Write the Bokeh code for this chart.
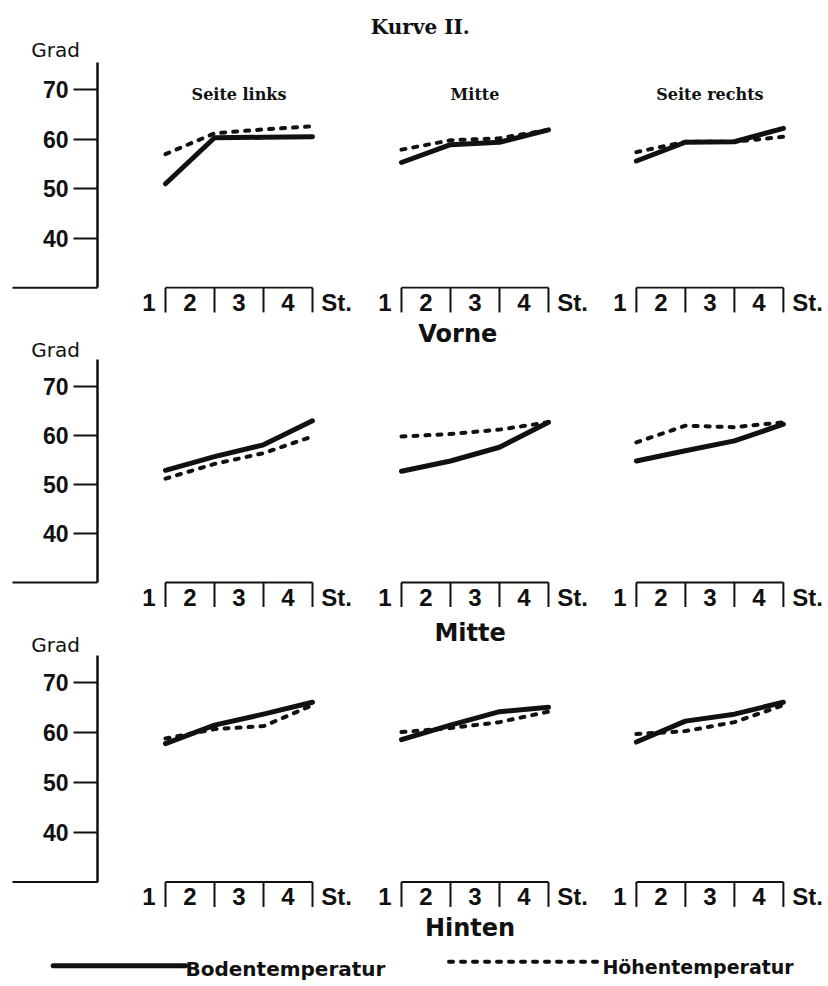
from bokeh.plotting import figure
from bokeh.models import Range1d, LinearAxis, FixedTicker
from bokeh.core.properties import value
from bokeh.embed import file_html
from bokeh.resources import INLINE

# ---------------- data ----------------
hours = [1, 2, 3, 4]
hour_labels = ["2", "3", "4"]
column_titles = ["Seite links", "Mitte", "Seite rechts"]
row_titles = ["Vorne", "Mitte", "Hinten"]
y_ticks = [40, 50, 60, 70]

# Bodentemperatur (solid) / Höhentemperatur (dashed), Grad
vorne_links_boden = [51.0, 60.3, 60.4, 60.5]
vorne_links_hoehe = [57.0, 61.2, 62.0, 62.6]
vorne_mitte_boden = [55.3, 58.9, 59.4, 61.9]
vorne_mitte_hoehe = [57.9, 59.8, 60.2, 61.9]
vorne_rechts_boden = [55.6, 59.4, 59.5, 62.2]
vorne_rechts_hoehe = [57.4, 59.5, 59.5, 60.5]

mitte_links_boden = [52.9, 55.7, 58.1, 63.0]
mitte_links_hoehe = [51.2, 54.2, 56.4, 59.8]
mitte_mitte_boden = [52.7, 54.8, 57.6, 62.7]
mitte_mitte_hoehe = [59.8, 60.3, 61.2, 62.7]
mitte_rechts_boden = [54.8, 56.9, 58.9, 62.3]
mitte_rechts_hoehe = [58.6, 62.0, 61.7, 62.7]

hinten_links_boden = [57.8, 61.5, 63.7, 66.1]
hinten_links_hoehe = [58.8, 60.7, 61.3, 65.5]
hinten_mitte_boden = [58.6, 61.5, 64.2, 65.1]
hinten_mitte_hoehe = [60.1, 60.9, 62.1, 64.2]
hinten_rechts_boden = [58.1, 62.3, 63.7, 66.1]
hinten_rechts_hoehe = [59.7, 60.3, 62.1, 65.5]

boden = [
    [vorne_links_boden, vorne_mitte_boden, vorne_rechts_boden],
    [mitte_links_boden, mitte_mitte_boden, mitte_rechts_boden],
    [hinten_links_boden, hinten_mitte_boden, hinten_rechts_boden],
]
hoehe = [
    [vorne_links_hoehe, vorne_mitte_hoehe, vorne_rechts_hoehe],
    [mitte_links_hoehe, mitte_mitte_hoehe, mitte_rechts_hoehe],
    [hinten_links_hoehe, hinten_mitte_hoehe, hinten_rechts_hoehe],
]

# ---------------- layout ----------------
W, H = 828, 986
ORG = 0.0            # page position of the figure's top-left corner
PX_HOUR = 49.0
X1_PAGE = 165.0
x_start = 1 - (X1_PAGE - ORG) / PX_HOUR
x_end = 1 + (ORG + W - X1_PAGE) / PX_HOUR
col_offset = [0.0, 4.816, 9.61]
axis_x = 1 - (X1_PAGE - 97) / PX_HOUR
stub_x = 1 - (X1_PAGE - 12) / PX_HOUR

row_pix = [(89.3, 237.7), (386.0, 533.0), (682.3, 831.7)]  # page y of 70 and 40

p = figure(width=W, height=H, output_backend="svg", toolbar_location=None,
           x_range=Range1d(x_start, x_end), y_range=Range1d(0, 1),
           x_axis_location=None, y_axis_location=None,
           min_border=0, min_border_left=0, min_border_right=0,
           min_border_top=0, min_border_bottom=0)
p.outline_line_color = None
p.grid.visible = False
p.background_fill_color = "white"
p.border_fill_color = "white"

for r, (y70, y40) in enumerate(row_pix):
    s = (y40 - y70) / 30.0
    p.extra_y_ranges[f"r{r}"] = Range1d(70 - (ORG + H - y70) / s, 70 + (y70 - ORG) / s)

INK = "#111111"
DIGIT_FONT = value("Liberation Sans")
WORD_FONT = value("DejaVu Sans")
SERIF_FONT = value("DejaVu Serif")

for r in range(3):
    rn = f"r{r}"
    ax = LinearAxis(y_range_name=rn, fixed_location=axis_x, bounds=(30, 75.5),
                    ticker=FixedTicker(ticks=y_ticks),
                    major_tick_in=0, major_tick_out=24,
                    minor_tick_in=0, minor_tick_out=0,
                    axis_line_width=2.5, axis_line_color=INK,
                    major_tick_line_width=2, major_tick_line_color=INK,
                    major_label_text_font="Liberation Sans",
                    major_label_text_font_style="bold",
                    major_label_text_font_size="23px",
                    major_label_text_color=INK,
                    major_label_standoff=5)
    p.add_layout(ax, "left")
    # "Grad"
    p.text(x=[stub_x + 0.88], y=[78.0 if r == 0 else 77.5], text=["Grad"], y_range_name=rn,
           text_font=WORD_FONT, text_font_size="20px", text_align="center",
           text_baseline="middle", text_color=INK)
    # baseline stub
    p.segment(x0=[stub_x], y0=[30], x1=[axis_x], y1=[30], y_range_name=rn,
              line_width=2, line_color=INK)

    for c in range(3):
        off = col_offset[c]
        xs = [h + off for h in hours]
        # bracket axis
        p.segment(x0=[xs[0]], y0=[30], x1=[xs[-1]], y1=[30], y_range_name=rn,
                  line_width=1.8, line_color=INK)
        p.segment(x0=xs, y0=[30] * 4, x1=xs, y1=[25] * 4, y_range_name=rn,
                  line_width=2, line_color=INK)
        p.text(x=[off + 0.8], y=[27], text=["1"], y_range_name=rn,
               text_font=DIGIT_FONT, text_font_style="bold", text_font_size="24px",
               text_align="right", text_baseline="middle", text_color=INK)
        p.text(x=[h + 0.5 + off for h in hours[:3]], y=[27] * 3, text=hour_labels,
               y_range_name=rn, text_font=DIGIT_FONT, text_font_style="bold",
               text_font_size="24px", text_align="center", text_baseline="middle",
               text_color=INK)
        p.text(x=[off + 4.18], y=[27], text=["St."], y_range_name=rn,
               text_font=DIGIT_FONT, text_font_style="bold", text_font_size="24px",
               text_align="left", text_baseline="middle", text_color=INK)
        # curves
        p.line(xs, boden[r][c], y_range_name=rn, line_width=5, line_color=INK,
               line_cap="round", line_join="round")
        p.line(xs, hoehe[r][c], y_range_name=rn, line_width=4, line_color=INK,
               line_dash="4 8", line_cap="round", line_join="round")

# title and column titles (row 0 scale)
p.text(x=[6.2], y=[82.7], text=["Kurve II."], y_range_name="r0",
       text_font=SERIF_FONT, text_font_style="bold", text_font_size="20px",
       text_align="center", text_baseline="middle", text_color=INK)
p.text(x=[off + 2.5 for off in col_offset], y=[69.0] * 3, text=column_titles,
       y_range_name="r0", text_font=SERIF_FONT, text_font_style="bold",
       text_font_size="16px", text_align="center", text_baseline="middle",
       text_color=INK)

# row titles below each row
row_title_x = [col_offset[1] + 2.15, col_offset[1] + 2.4, col_offset[1] + 2.4]
row_title_y = [20.6, 19.7, 20.8]
for r in range(3):
    p.text(x=[row_title_x[r]], y=[row_title_y[r]], text=[row_titles[r]],
           y_range_name=f"r{r}", text_font=WORD_FONT, text_font_style="bold",
           text_font_size="24px", text_align="center", text_baseline="middle",
           text_color=INK)

# legend (row 2 scale)
p.line([stub_x + 0.83, stub_x + 3.53], [13.2, 13.2], y_range_name="r2",
       line_width=5, line_color=INK, line_cap="round")
p.text(x=[stub_x + 3.53], y=[12.6], text=["Bodentemperatur"], y_range_name="r2",
       text_font=WORD_FONT, text_font_style="bold", text_font_size="20px",
       text_align="left", text_baseline="alphabetic", text_color=INK)
p.line([col_offset[1] + 1.97, col_offset[1] + 5.08], [14.0, 14.0], y_range_name="r2",
       line_width=4, line_color=INK, line_dash="4 8", line_cap="round")
p.text(x=[col_offset[1] + 5.1], y=[13.0], text=["Höhentemperatur"], y_range_name="r2",
       text_font=WORD_FONT, text_font_style="bold", text_font_size="19px",
       text_align="left", text_baseline="alphabetic", text_color=INK)

open("out.html", "w").write(file_html(p, INLINE))
